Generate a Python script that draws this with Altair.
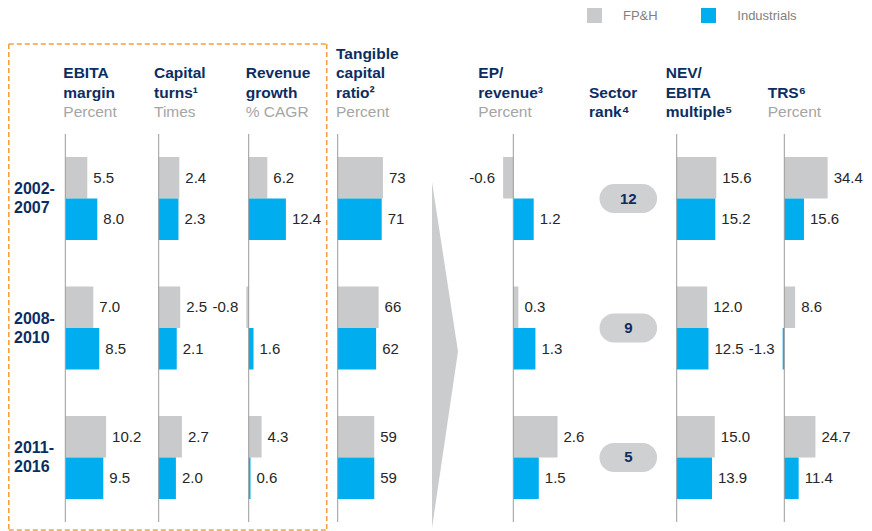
import altair as alt
import pandas as pd

# ---------------- data ----------------
periods = ["2002-2007", "2008-2010", "2011-2016"]
series = ["FP&H", "Industrials"]

ebita_margin_fph = [5.5, 7.0, 10.2]
ebita_margin_ind = [8.0, 8.5, 9.5]
capital_turns_fph = [2.4, 2.5, 2.7]
capital_turns_ind = [2.3, 2.1, 2.0]
revenue_growth_fph = [6.2, -0.8, 4.3]
revenue_growth_ind = [12.4, 1.6, 0.6]
tangible_ratio_fph = [73, 66, 59]
tangible_ratio_ind = [71, 62, 59]
ep_revenue_fph = [-0.6, 0.3, 2.6]
ep_revenue_ind = [1.2, 1.3, 1.5]
sector_rank = [12, 9, 5]
nev_ebita_fph = [15.6, 12.0, 15.0]
nev_ebita_ind = [15.2, 12.5, 13.9]
trs_fph = [34.4, 8.6, 24.7]
trs_ind = [15.6, -1.3, 11.4]

metrics = {
    "ebita": (ebita_margin_fph, ebita_margin_ind),
    "turns": (capital_turns_fph, capital_turns_ind),
    "growth": (revenue_growth_fph, revenue_growth_ind),
    "tangible": (tangible_ratio_fph, tangible_ratio_ind),
    "ep": (ep_revenue_fph, ep_revenue_ind),
    "nev": (nev_ebita_fph, nev_ebita_ind),
    "trs": (trs_fph, trs_ind),
}

headers = {
    "ebita": (["EBITA", "margin"], "Percent"),
    "turns": (["Capital", "turns¹"], "Times"),
    "growth": (["Revenue", "growth"], "% CAGR"),
    "tangible": (["Tangible", "capital", "ratio²"], "Percent"),
    "ep": (["EP/", "revenue³"], "Percent"),
    "rank": (["Sector", "rank⁴"], None),
    "nev": (["NEV/", "EBITA", "multiple⁵"], None),
    "trs": (["TRS⁶"], "Percent"),
}

rows = []
for key, (fph, ind) in metrics.items():
    for pi, (p, a, b) in enumerate(zip(periods, fph, ind)):
        rows.append({"metric": key, "period": p, "pi": pi, "series": series[0], "si": 0, "value": a})
        rows.append({"metric": key, "period": p, "pi": pi, "series": series[1], "si": 1, "value": b})
df = pd.DataFrame(rows)
df_periods = pd.DataFrame({
    "period": periods,
    "pi": list(range(len(periods))),
    "line1": [p.split("-")[0] + "-" for p in periods],
    "line2": [p.split("-")[1] for p in periods],
})
df_rank = pd.DataFrame({"period": periods, "pi": list(range(len(periods))), "rank": sector_rank})
df_series = pd.DataFrame({"series": series})
one = pd.DataFrame({"k": [0]})
# outline of the chevron between the two blocks (fractions of its box)
df_arrow = pd.DataFrame({"ay": [0.0, 0.49, 1.0], "ax": [0.0, 1.0, 0.0]})

# ---------------- style / layout ----------------
FONT = "Liberation Sans, Arial, Helvetica, sans-serif"
GRAY = "#C9CACC"
BLUE = "#00ADEF"
NAVY = "#0C2D62"
SUBGRAY = "#A5A5A5"
LABEL = "#262626"
AXIS = "#9B9B9B"
ORANGE = "#F4A143"
W, H = 856, 523
STEP = 3.12                 # distance between period groups, in bar heights
YMAX = 2 * STEP + 2

# panel layout: (metric, zero-line x, pixels per unit, header x, label format)
panels = [
    ("ebita", 57.3, 4.0, 55.3, ".1f"),
    ("turns", 150.7, 8.6, 146.0, ".1f"),
    ("growth", 240.7, 3.0, 237.7, ".1f"),
    ("tangible", 329.7, 0.62, 328.0, ".0f"),
    ("ep", 505.3, 17.0, 470.3, ".1f"),
    ("nev", 668.7, 2.54, 657.7, ".1f"),
    ("trs", 776.3, 1.26, 759.7, ".1f"),
]

color_scale = alt.Scale(domain=series, range=[GRAY, BLUE])


def yq(field):
    return alt.Y(field, axis=None,
                 scale=alt.Scale(domain=[0, YMAX], range=[149, 491], nice=False, zero=False))


def header_layers(key, hx):
    lines, sub = headers[key]
    allines = [(t, "b") for t in lines] + ([(sub, "s")] if sub else [])
    n = len(allines)
    out = []
    for i, (t, kind) in enumerate(allines):
        y = round(104 - (n - 1 - i) * 19.3, 1)
        out.append(
            alt.Chart(one).mark_text(
                align="left", baseline="middle", font=FONT, fontSize=15.5,
                fontWeight="bold" if kind == "b" else "normal",
                color=NAVY if kind == "b" else SUBGRAY,
            ).encode(x=alt.value(hx), y=alt.value(y), text=alt.value(t))
        )
    return out


def bar_layers(key, x0, k, fmt):
    d = df[df.metric == key]

    def xs():
        return alt.X("value:Q", axis=None,
                     scale=alt.Scale(domain=[0, 10], range=[x0, round(x0 + 10 * k, 2)],
                                     nice=False, zero=False))

    base = alt.Chart(d).transform_calculate(
        top=f"datum.pi * {STEP} + datum.si",
        bottom=f"datum.pi * {STEP} + datum.si + 1",
        mid=f"datum.pi * {STEP} + datum.si + 0.5",
        base="0",
        label=f"replace(format(datum.value, '{fmt}'), '\u2212', '-')",
    )
    bars = base.mark_bar(strokeWidth=0).encode(
        x=xs(), x2="base:Q", y=yq("top:Q"), y2="bottom:Q",
        color=alt.Color("series:N", scale=color_scale, legend=None),
    )
    pos = base.transform_filter("datum.value >= 0").mark_text(
        align="left", baseline="middle", dx=6, font=FONT, fontSize=15, color=LABEL
    ).encode(x=xs(), y=yq("mid:Q"), text="label:N")
    neg = base.transform_filter("datum.value < 0").mark_text(
        align="right", baseline="middle", dx=-8, font=FONT, fontSize=15, color=LABEL
    ).encode(x=xs(), y=yq("mid:Q"), text="label:N")
    rule = alt.Chart(one).mark_rule(color=AXIS, strokeWidth=1).encode(
        x=alt.value(x0), y=alt.value(126), y2=alt.value(514)
    )
    return [bars, rule, pos, neg]


layers = []

# dashed box around the operating metrics
box_style = dict(color=ORANGE, strokeWidth=1.6, strokeDash=[5, 3])
layers += [
    alt.Chart(one).mark_rule(**box_style).encode(x=alt.value(0.8), y=alt.value(36), y2=alt.value(522)),
    alt.Chart(one).mark_rule(**box_style).encode(x=alt.value(318.7), y=alt.value(36), y2=alt.value(522)),
    alt.Chart(one).mark_rule(**box_style).encode(x=alt.value(0.8), x2=alt.value(318.7), y=alt.value(36)),
    alt.Chart(one).mark_rule(**box_style).encode(x=alt.value(0.8), x2=alt.value(318.7), y=alt.value(522)),
]

# chevron
layers.append(
    alt.Chart(df_arrow).mark_area(orient="horizontal", color="#CBCCCE", opacity=1).encode(
        y=alt.Y("ay:Q", scale=alt.Scale(domain=[0, 1], range=[174, 520], nice=False, zero=False), axis=None),
        x=alt.X("ax:Q", scale=alt.Scale(domain=[0, 1], range=[424, 450], nice=False, zero=False), axis=None),
    )
)

# period labels
pbase = alt.Chart(df_periods).transform_calculate(mid="datum.pi * %s + 1" % STEP)
for fld, dy in (("line1", -9.5), ("line2", 9.5)):
    layers.append(
        pbase.mark_text(
            align="left", baseline="middle", dy=dy, font=FONT, fontSize=16, fontWeight="bold", color=NAVY
        ).encode(x=alt.value(6), y=yq("mid:Q"), text=f"{fld}:N")
    )

# bar panels + headers
for key, x0, k, hx, fmt in panels:
    layers += bar_layers(key, x0, k, fmt)
    layers += header_layers(key, hx)

# sector rank
rbase = alt.Chart(df_rank).transform_calculate(mid="datum.pi * %s + 1" % STEP)
layers.append(
    rbase.mark_rule(color="#CFD0D2", strokeWidth=29, strokeCap="round").encode(
        x=alt.value(606), x2=alt.value(634.6), y=yq("mid:Q"))
)
layers.append(
    rbase.mark_text(
        align="center", baseline="middle", font=FONT, fontSize=15, fontWeight="bold", color=NAVY
    ).encode(x=alt.value(620.3), y=yq("mid:Q"), text="rank:Q")
)
layers += header_layers("rank", 581)

# legend
for s, sx, tx in zip(series, [586.5, 700.5], [615, 729.3]):
    ls = alt.Chart(df_series).transform_filter(alt.datum.series == s)
    layers.append(
        ls.mark_square(size=225, opacity=1).encode(
            x=alt.value(sx), y=alt.value(7.5),
            color=alt.Color("series:N", scale=color_scale, legend=None))
    )
    layers.append(
        ls.mark_text(align="left", baseline="middle", font=FONT, fontSize=13, color="#7F7F7F").encode(
            x=alt.value(tx), y=alt.value(7.5), text="series:N")
    )

chart = alt.layer(*layers).resolve_scale(x="independent", y="independent").properties(
    width=W, height=H, padding=0
).configure_view(strokeWidth=0)

chart.save("out.html", embed_options={"renderer": "svg", "actions": False})
